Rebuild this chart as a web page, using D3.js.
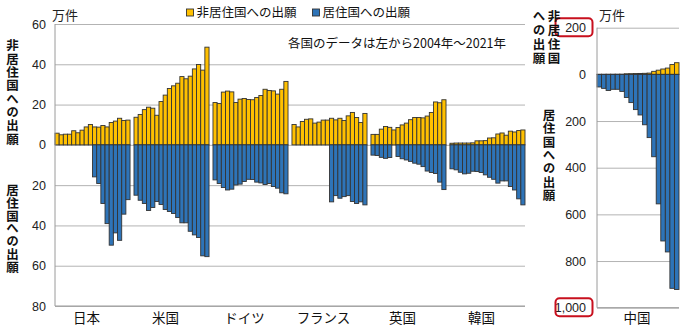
<!DOCTYPE html>
<html>
<head>
<meta charset="utf-8">
<script src="https://cdn.jsdelivr.net/npm/d3@7"></script>
<style>
  body { margin: 0; background: #fff; }
  svg { display: block; }
</style>
</head>
<body>
<svg id="chart" width="700" height="333"></svg>
<script>
// Patent filings (10,000 cases): abroad (non-resident) vs. home (resident), 2004-2021
const years = [2004, 2005, 2006, 2007, 2008, 2009, 2010, 2011, 2012,
               2013, 2014, 2015, 2016, 2017, 2018, 2019, 2020, 2021];
const countries = ["日本", "米国", "ドイツ", "フランス", "英国", "韓国"];

const japanAbroad   = [5.8, 5.0, 5.3, 5.3, 7.0, 6.0, 7.3, 8.9, 10.1, 8.9, 8.8, 9.6, 8.9, 11.1, 11.8, 13.2, 12.1, 12.3];
const japanHome     = [null, null, null, null, null, null, null, null, null, 15.9, 19.2, 29.1, 39.1, 49.8, 43.7, 47.4, 34.4, 27.2];
const usAbroad      = [13.7, 15.1, 17.5, 18.7, 18.2, 14.7, 21.5, 24.7, 28.0, 29.3, 30.6, 33.9, 32.8, 34.1, 37.7, 39.9, 37.1, 48.5];
const usHome        = [25.0, 27.5, 29.1, 32.6, 31.1, 28.1, 29.6, 32.1, 33.1, 34.1, 36.1, 38.7, 38.7, 42.9, 44.7, 46.0, 55.1, 55.5];
const germanyAbroad = [21.0, 20.5, 26.2, 26.7, 26.3, 21.0, 22.7, 23.0, 22.5, 22.4, 23.5, 24.5, 27.6, 27.0, 26.8, 25.2, 27.6, 31.5];
const germanyHome   = [17.4, 19.2, 21.2, 22.4, 22.0, 19.9, 19.5, 18.2, 17.1, 17.2, 18.5, 18.9, 19.7, 19.2, 20.7, 21.5, 23.8, 24.3];
const franceAbroad  = [10.1, 8.9, 11.6, 12.7, 12.9, 10.8, 11.3, 12.3, 12.3, 13.2, 12.4, 13.2, 12.1, 14.4, 16.1, 13.6, 11.1, 15.6];
const franceHome    = [null, null, null, null, null, null, null, null, null, 28.3, 25.2, 26.5, 25.7, 25.2, 28.1, 29.1, 28.3, 29.8];
const ukAbroad      = [5.2, 5.2, 7.8, 9.1, 8.7, 7.4, 8.6, 9.9, 10.8, 12.5, 13.6, 13.6, 13.4, 14.3, 16.1, 21.3, 20.9, 22.4];
const ukHome        = [5.1, 5.3, 6.2, 6.7, 6.3, null, 5.8, 6.9, 7.5, 8.2, 9.1, 9.6, 10.8, 13.0, 13.7, 14.2, 18.5, 22.2];
const koreaAbroad   = [0.8, 0.9, 0.9, 0.9, 0.9, 1.0, 2.0, 2.0, 2.1, 3.4, 3.5, 5.4, 5.9, 4.8, 6.8, 6.4, 7.1, 7.4];
const koreaHome     = [11.9, 12.4, 13.6, 14.4, 14.1, 13.1, 13.2, 13.7, 14.9, 16.1, 17.1, 19.0, 17.9, 17.9, 20.7, 22.4, 26.8, 29.8];
const chinaAbroad   = [0.3, 0.4, 0.5, 0.6, 0.7, 0.8, 2.5, 3, 3.5, 4, 4.5, 5.5, 13, 18, 23, 27, 42, 50];
const chinaHome     = [54, 60, 69, 64, 64, 73, 99, 121, 151, 174, 216, 271, 353, 555, 714, 761, 917, 922];

const leftTicks  = [60, 40, 20, 0, -20, -40, -60, -80];
const rightTicks = [200, 0, -200, -400, -600, -800, -1000];

const legendLabels = ["非居住国への出願", "居住国への出願"];
const unitLabel = "万件";
const note = "各国のデータは左から2004年～2021年";
const chinaLabel = "中国";

// rows used by the drawing code
const abroadByCountry = [japanAbroad, usAbroad, germanyAbroad, franceAbroad, ukAbroad, koreaAbroad];
const homeByCountry   = [japanHome, usHome, germanyHome, franceHome, ukHome, koreaHome];
const rows = [];
countries.forEach((c, ci) => {
  years.forEach((y, yi) => {
    rows.push({ country: c, year: y, abroad: abroadByCountry[ci][yi], home: homeByCountry[ci][yi] });
  });
});
const chinaRows = years.map((y, yi) => ({ year: y, abroad: chinaAbroad[yi], home: chinaHome[yi] }));

const JP = "'Noto Sans CJK JP', 'Noto Sans', sans-serif";
const NUM = "'Liberation Sans', Arial, sans-serif";
const C_ABROAD = "#FFC000";
const C_HOME = "#2E74B8";
const EDGE = "#333333";
const GRID = "#b3b3b3";
const AXIS = "#9a9a9a";

const svg = d3.select("#chart");
svg.append("rect").attr("width", 700).attr("height", 333).attr("fill", "#fff");

// ---------- left panel ----------
const L = { x0: 55, x1: 525, top: 24, bottom: 306 };
const yL = d3.scaleLinear().domain([60, -80]).range([L.top, L.bottom]);
const xL = d3.scaleBand().domain(countries).range([L.x0, L.x1]).paddingInner(0.05).paddingOuter(0);
const xYearL = d3.scaleBand().domain(years).range([0, xL.bandwidth()]);

const axisL = svg.append("g").attr("transform", `translate(${L.x0},0)`)
  .call(d3.axisLeft(yL).tickValues(leftTicks).tickFormat(d => Math.abs(d))
        .tickSize(-(L.x1 - L.x0)).tickPadding(9));
axisL.select(".domain").remove();
axisL.selectAll(".tick line").attr("stroke", GRID).attr("stroke-width", 1);
axisL.selectAll(".tick text").attr("font-family", NUM).attr("font-size", 12.5).attr("fill", "#222");

const barsL = svg.append("g");
barsL.selectAll("rect.abroad").data(rows.filter(d => d.abroad != null)).join("rect")
  .attr("class", "abroad")
  .attr("x", d => xL(d.country) + xYearL(d.year))
  .attr("width", xYearL.bandwidth())
  .attr("y", d => yL(d.abroad))
  .attr("height", d => yL(0) - yL(d.abroad))
  .attr("fill", C_ABROAD).attr("stroke", EDGE).attr("stroke-width", 0.9);
barsL.selectAll("rect.home").data(rows.filter(d => d.home != null)).join("rect")
  .attr("class", "home")
  .attr("x", d => xL(d.country) + xYearL(d.year))
  .attr("width", xYearL.bandwidth())
  .attr("y", yL(0))
  .attr("height", d => yL(-d.home) - yL(0))
  .attr("fill", C_HOME).attr("stroke", EDGE).attr("stroke-width", 0.9);

// axis lines
svg.append("line").attr("x1", L.x0).attr("x2", L.x0).attr("y1", L.top).attr("y2", L.bottom)
  .attr("stroke", AXIS).attr("stroke-width", 1);
svg.append("line").attr("x1", L.x0).attr("x2", L.x1).attr("y1", L.bottom).attr("y2", L.bottom)
  .attr("stroke", AXIS).attr("stroke-width", 1);

// category labels
svg.append("g").selectAll("text").data(countries).join("text")
  .attr("x", d => xL(d) + xL.bandwidth() / 2 - 6)
  .attr("y", 323)
  .attr("text-anchor", "middle")
  .attr("font-family", JP).attr("font-size", 13.5).attr("fill", "#111")
  .text(d => d);

// ---------- right panel (China) ----------
const R = { x0: 597, x1: 679, top: 27.7, bottom: 307.7 };
const yR = d3.scaleLinear().domain([200, -1000]).range([R.top, R.bottom]);
const xR = d3.scaleBand().domain(years).range([R.x0, R.x1]);

const axisR = svg.append("g").attr("transform", `translate(${R.x0},0)`)
  .call(d3.axisLeft(yR).tickValues(rightTicks).tickFormat(d => d3.format(",")(Math.abs(d)))
        .tickSize(-(R.x1 - R.x0)).tickPadding(11));
axisR.select(".domain").remove();
axisR.selectAll(".tick line").attr("stroke", GRID).attr("stroke-width", 1);
axisR.selectAll(".tick text").attr("font-family", NUM).attr("font-size", 12.5).attr("fill", "#222");

const barsR = svg.append("g");
barsR.selectAll("rect.abroad").data(chinaRows).join("rect")
  .attr("x", d => xR(d.year)).attr("width", xR.bandwidth())
  .attr("y", d => yR(d.abroad)).attr("height", d => yR(0) - yR(d.abroad))
  .attr("fill", C_ABROAD).attr("stroke", EDGE).attr("stroke-width", 0.9);
barsR.selectAll("rect.home").data(chinaRows).join("rect")
  .attr("x", d => xR(d.year)).attr("width", xR.bandwidth())
  .attr("y", yR(0)).attr("height", d => yR(-d.home) - yR(0))
  .attr("fill", C_HOME).attr("stroke", EDGE).attr("stroke-width", 0.9);

svg.append("line").attr("x1", R.x0).attr("x2", R.x0).attr("y1", R.top).attr("y2", R.bottom)
  .attr("stroke", AXIS).attr("stroke-width", 1);
svg.append("line").attr("x1", R.x0).attr("x2", R.x1).attr("y1", R.bottom).attr("y2", R.bottom)
  .attr("stroke", AXIS).attr("stroke-width", 1);

// red frames marking the differing scale of the China panel
[200, -1000].forEach(v => {
  svg.append("rect")
    .attr("x", 555.5).attr("y", yR(v) - 9.5)
    .attr("width", 37).attr("height", 18).attr("rx", 4)
    .attr("fill", "none").attr("stroke", "#C8101E").attr("stroke-width", 2);
});

svg.append("text").attr("x", xR.range()[0] + (R.x1 - R.x0) / 2 - 1).attr("y", 323)
  .attr("text-anchor", "middle").attr("font-family", JP).attr("font-size", 13.5).attr("fill", "#111")
  .text(chinaLabel);

// ---------- titles, legend, notes ----------
svg.append("text").attr("x", 52).attr("y", 20).attr("font-family", JP).attr("font-size", 13)
  .attr("fill", "#222").text(unitLabel);
svg.append("text").attr("x", 599).attr("y", 20).attr("font-family", JP).attr("font-size", 13)
  .attr("fill", "#222").text(unitLabel);

// vertical (tategaki) axis titles; yFirst is the centre of the first character
function verticalText(str, x, yFirst, step, size) {
  svg.append("text")
    .attr("x", x).attr("y", yFirst - size / 2)
    .style("writing-mode", "vertical-rl")
    .style("text-orientation", "upright")
    .style("letter-spacing", (step - size) + "px")
    .attr("font-family", JP).attr("font-size", size).attr("font-weight", 700).attr("fill", "#111")
    .text(str);
}
verticalText(legendLabels[0], 12.5, 45.7, 13.3, 12.5);
verticalText(legendLabels[1], 12.5, 190, 12.9, 12.5);
verticalText("非居住国", 554, 16, 14, 12.5);
verticalText("への出願", 539, 16, 14, 12.5);
verticalText(legendLabels[1], 549, 115, 13.4, 12.5);

const legend = svg.append("g");
const legendItems = [
  { label: legendLabels[0], color: C_ABROAD, x: 186.5 },
  { label: legendLabels[1], color: C_HOME, x: 312.5 }
];
legendItems.forEach(it => {
  legend.append("rect").attr("x", it.x).attr("y", 9).attr("width", 7).attr("height", 7)
    .attr("fill", it.color).attr("stroke", EDGE).attr("stroke-width", 0.9);
  legend.append("text").attr("x", it.x + 10).attr("y", 17).attr("font-family", JP)
    .attr("font-size", 12.5).attr("fill", "#111").text(it.label);
});

svg.append("text").attr("x", 288).attr("y", 48).attr("font-family", JP).attr("font-size", 12.5)
  .attr("fill", "#111").text(note);
</script>
</body>
</html>
